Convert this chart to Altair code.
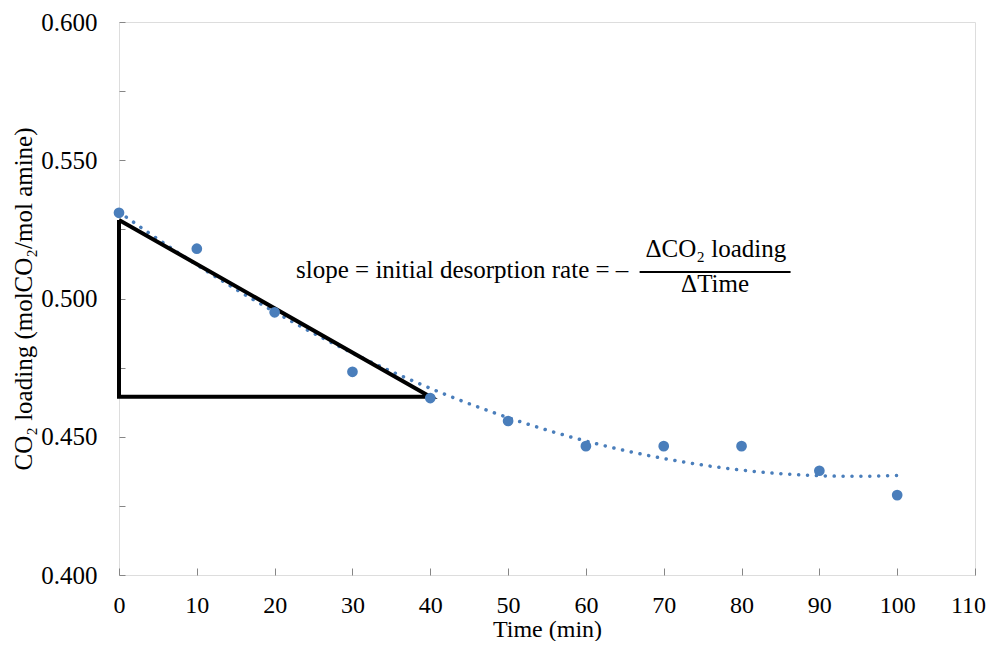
import altair as alt
import pandas as pd

# measured data
time_min = [0, 10, 20, 30, 40, 50, 60, 70, 80, 90, 100]
co2_loading = [0.531, 0.518, 0.495, 0.4735, 0.464, 0.4557, 0.4466, 0.4466, 0.4466, 0.4377, 0.4289]

# triangle (slope illustration)
tri_x = [0, 0, 40, 0]
tri_y = [0.5284, 0.4645, 0.4645, 0.5284]

# annotation
ann_main = "slope = initial desorption rate = \u2013"
ann_num = "\u0394CO\u2082 loading"
ann_den = "\u0394Time"

FONT = "Liberation Serif"
BLUE = "#4A7EBB"
GRAY = "#868686"
FS = 24

x_ticks = list(range(0, 111, 10))
y_ticks = [0.4, 0.425, 0.45, 0.475, 0.5, 0.525, 0.55, 0.575, 0.6]

x_axis = alt.Axis(values=x_ticks, domain=False, grid=False, tickSize=7, offset=-7,
                  tickColor=GRAY, labelPadding=18, labelFont=FONT, labelFontSize=FS,
                  labelColor="black", labelFlush=False, labelOverlap=False, labelBound=False,
                  labelOffset=alt.ConditionalAxisNumber(
                      condition={"test": "datum.value == 110", "value": -7}, value=0),
                  titleFont=FONT, titleFontSize=24,
                  titleFontWeight="normal", titleColor="black", titlePadding=0)
y_axis = alt.Axis(values=y_ticks, domain=False, grid=False, tickSize=6, offset=-6,
                  tickColor=GRAY, labelPadding=22, labelFont=FONT, labelFontSize=25,
                  labelColor="black", labelFlush=False, labelOverlap=False, labelBound=False,
                  labelExpr="(round(datum.value*1000) % 50 == 0) ? format(datum.value, '.3f') : ''",
                  titleFont=FONT, titleFontSize=25, titleFontWeight="normal",
                  titleColor="black", titlePadding=4)

XT = "Time (min)"
YT = "CO\u2082 loading (molCO\u2082/mol amine)"


def xe(f):
    return alt.X(f"{f}:Q", scale=alt.Scale(domain=[0, 110], nice=False, zero=False),
                 axis=x_axis, title=XT)


def ye(f):
    return alt.Y(f"{f}:Q", scale=alt.Scale(domain=[0.4, 0.6], nice=False, zero=False),
                 axis=y_axis, title=YT)


df = pd.DataFrame({"t": time_min, "v": co2_loading})
tri = pd.DataFrame({"t": tri_x, "v": tri_y, "o": list(range(len(tri_x)))})

base = alt.Chart(df)

trend = base.transform_regression("t", "v", method="poly", order=2, extent=[0, 100]).mark_line(
    color=BLUE, strokeWidth=3.5, strokeDash=[0.1, 8.8], strokeCap="round"
).encode(x=xe("t"), y=ye("v"))

triangle = alt.Chart(tri).mark_line(color="black", strokeWidth=4, strokeJoin="miter",
                                    clip=False).encode(
    x=xe("t"), y=ye("v"), order="o:Q")

points = base.mark_circle(color=BLUE, size=115, opacity=1).encode(x=xe("t"), y=ye("v"))

ann = pd.DataFrame({
    "t": [44.1, 76.7, 76.6],
    "v": [0.5074, 0.5150, 0.5024],
    "txt": [ann_main, ann_num, ann_den],
})

txt_main = alt.Chart(ann.iloc[[0]]).mark_text(align="center", baseline="alphabetic", font=FONT,
                                               fontSize=25, color="black").encode(
    x=xe("t"), y=ye("v"), text="txt:N")
txt_frac = alt.Chart(ann.iloc[[1, 2]]).mark_text(align="center", baseline="alphabetic",
                                                  font=FONT, fontSize=25, color="black").encode(
    x=xe("t"), y=ye("v"), text="txt:N")

bar = pd.DataFrame({"t": [66.9], "t2": [86.3], "v": [0.5096]})
frac_bar = alt.Chart(bar).mark_rule(color="black", strokeWidth=2).encode(
    x=xe("t"), x2="t2:Q", y=ye("v"))

chart = alt.layer(trend, triangle, points, txt_main, txt_frac, frac_bar).properties(
    width=856, height=553,
    autosize=alt.AutoSizeParams(type="none"),
    padding={"left": 111, "top": 14, "right": 13, "bottom": 66},
).configure_view(stroke=GRAY, strokeWidth=1.5).configure(background="white")

chart.save("out.html", embed_options={"renderer": "svg", "actions": False})
